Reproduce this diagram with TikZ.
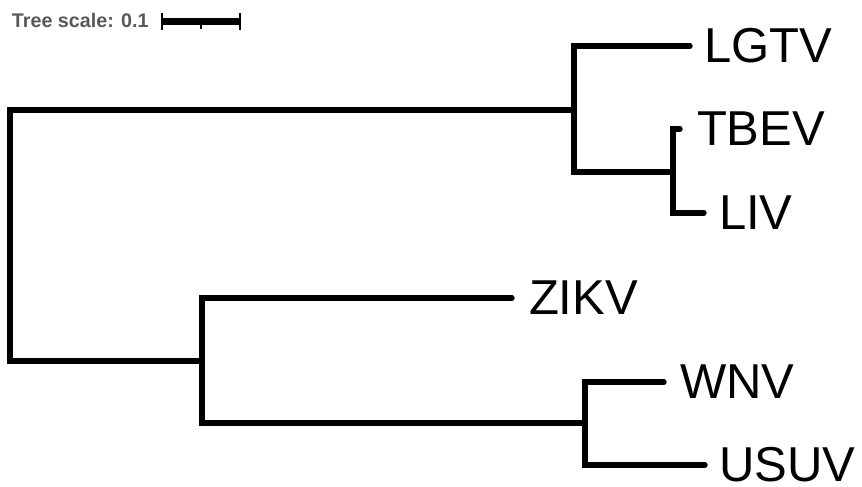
\documentclass[tikz,border=0pt]{standalone}
\usepackage{fontspec}
\setmainfont{Liberation Sans}
\usetikzlibrary{positioning}
\definecolor{scalegray}{RGB}{88,88,88}

\begin{document}
\begin{tikzpicture}[
    x=1pt, y=-1pt,
    every node/.style={inner sep=0pt, outer sep=0pt},
    leaf/.style={anchor=west, font=\fontsize{49}{58}\selectfont},
    scaletext/.style={anchor=base west, font=\fontsize{19.7}{24}\selectfont\bfseries, text=scalegray},
    branch/.style={line width=5.4pt, line cap=round, line join=miter},
    scalebar/.style={line width=7pt},
    scaletick/.style={line width=1.3pt}
]
\useasboundingbox (0,0) rectangle (862,487);
\node[scaletext] (scale) at (12,27.5) {Tree scale: 0.1};
\coordinate (barL) at (162,21.5);
\coordinate (barM) at (201,21.5);
\coordinate (barR) at (240,21.5);
\draw[scalebar] (barL) -- (barR);
\draw[scaletick] ([yshift=8.5pt]barL) -- ([yshift=-8.5pt]barL);
\draw[scaletick] ([yshift=8.5pt]barR) -- ([yshift=-8.5pt]barR);
\draw[scaletick] (barM) -- ([yshift=-7.5pt]barM);
\coordinate (root) at (10,236);
\coordinate (anc1) at (574,110);
\coordinate (anc2) at (673,172);
\coordinate (anc3) at (202,361);
\coordinate (anc4) at (585,423);
\coordinate (tLGTV) at (690,46);
\coordinate (tTBEV) at (680,129);
\coordinate (tLIV) at (704,213);
\coordinate (tZIKV) at (512,298);
\coordinate (tWNV) at (664,382);
\coordinate (tUSUV) at (705,465);
\node[leaf] (LGTV) at (704,46) {LGTV};
\node[leaf] (TBEV) at (697,129) {TBEV};
\node[leaf] (LIV) at (719,213) {LIV};
\node[leaf] (ZIKV) at (529,298) {ZIKV};
\node[leaf] (WNV) at (680,382) {WNV};
\node[leaf] (USUV) at (719,465) {USUV};
\draw[branch] (root) |- (anc1);
\draw[branch] (root) |- (anc3);
\draw[branch] (anc1) |- (tLGTV);
\draw[branch] (anc1) |- (anc2);
\draw[branch] (anc2) |- (tTBEV);
\draw[branch] (anc2) |- (tLIV);
\draw[branch] (anc3) |- (tZIKV);
\draw[branch] (anc3) |- (anc4);
\draw[branch] (anc4) |- (tWNV);
\draw[branch] (anc4) |- (tUSUV);
\end{tikzpicture}
\end{document}
